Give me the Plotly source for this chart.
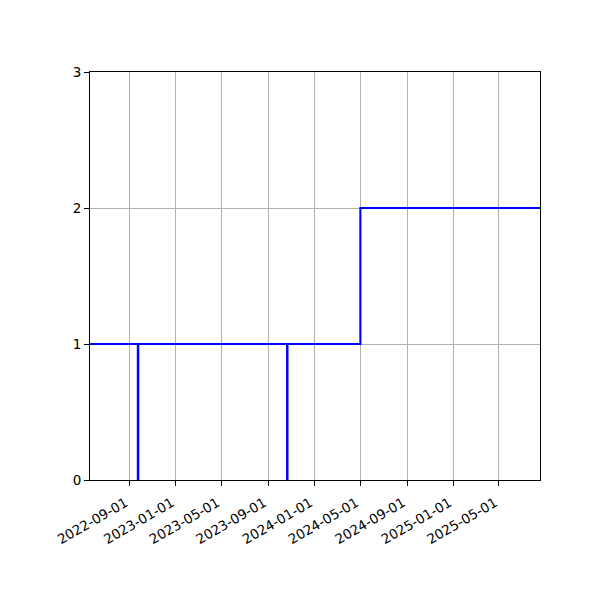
import plotly.graph_objects as go

# step series: date -> level
dates = ["2022-05-20", "2022-09-23", "2022-09-24", "2023-10-21", "2023-10-22",
         "2024-05-01", "2025-08-17"]
values = [1, 0, 1, 0, 1, 2, 2]

tick_dates = ["2022-09-01", "2023-01-01", "2023-05-01", "2023-09-01", "2024-01-01",
              "2024-05-01", "2024-09-01", "2025-01-01", "2025-05-01"]
y_ticks = [0, 1, 2, 3]

fig = go.Figure()
fig.add_trace(go.Scatter(x=dates, y=values, mode="lines", line_shape="hv",
                         line=dict(color="#0000ff", width=2.1), showlegend=False))

axis_style = dict(showline=True, linecolor="black", linewidth=1, mirror=True,
                  ticks="outside", ticklen=5, tickcolor="black", tickwidth=1,
                  showgrid=True, gridcolor="#b0b0b0", gridwidth=0.8, zeroline=False)

fig.update_xaxes(range=["2022-05-20", "2025-08-17"], tickvals=tick_dates,
                 ticktext=tick_dates, tickangle=-30, ticklabelshift=-4,
                 ticklabelstandoff=4, **axis_style)
fig.update_yaxes(range=[0, 3], tickvals=y_ticks, **axis_style)

# page body has an 8px margin, so shift the plot area back by that much
fig.update_layout(width=600, height=600, plot_bgcolor="white", paper_bgcolor="white",
                  margin=dict(l=82, r=68, t=64, b=128),
                  font=dict(family="DejaVu Sans", size=13.5, color="black"))

fig.write_html("out.html")
